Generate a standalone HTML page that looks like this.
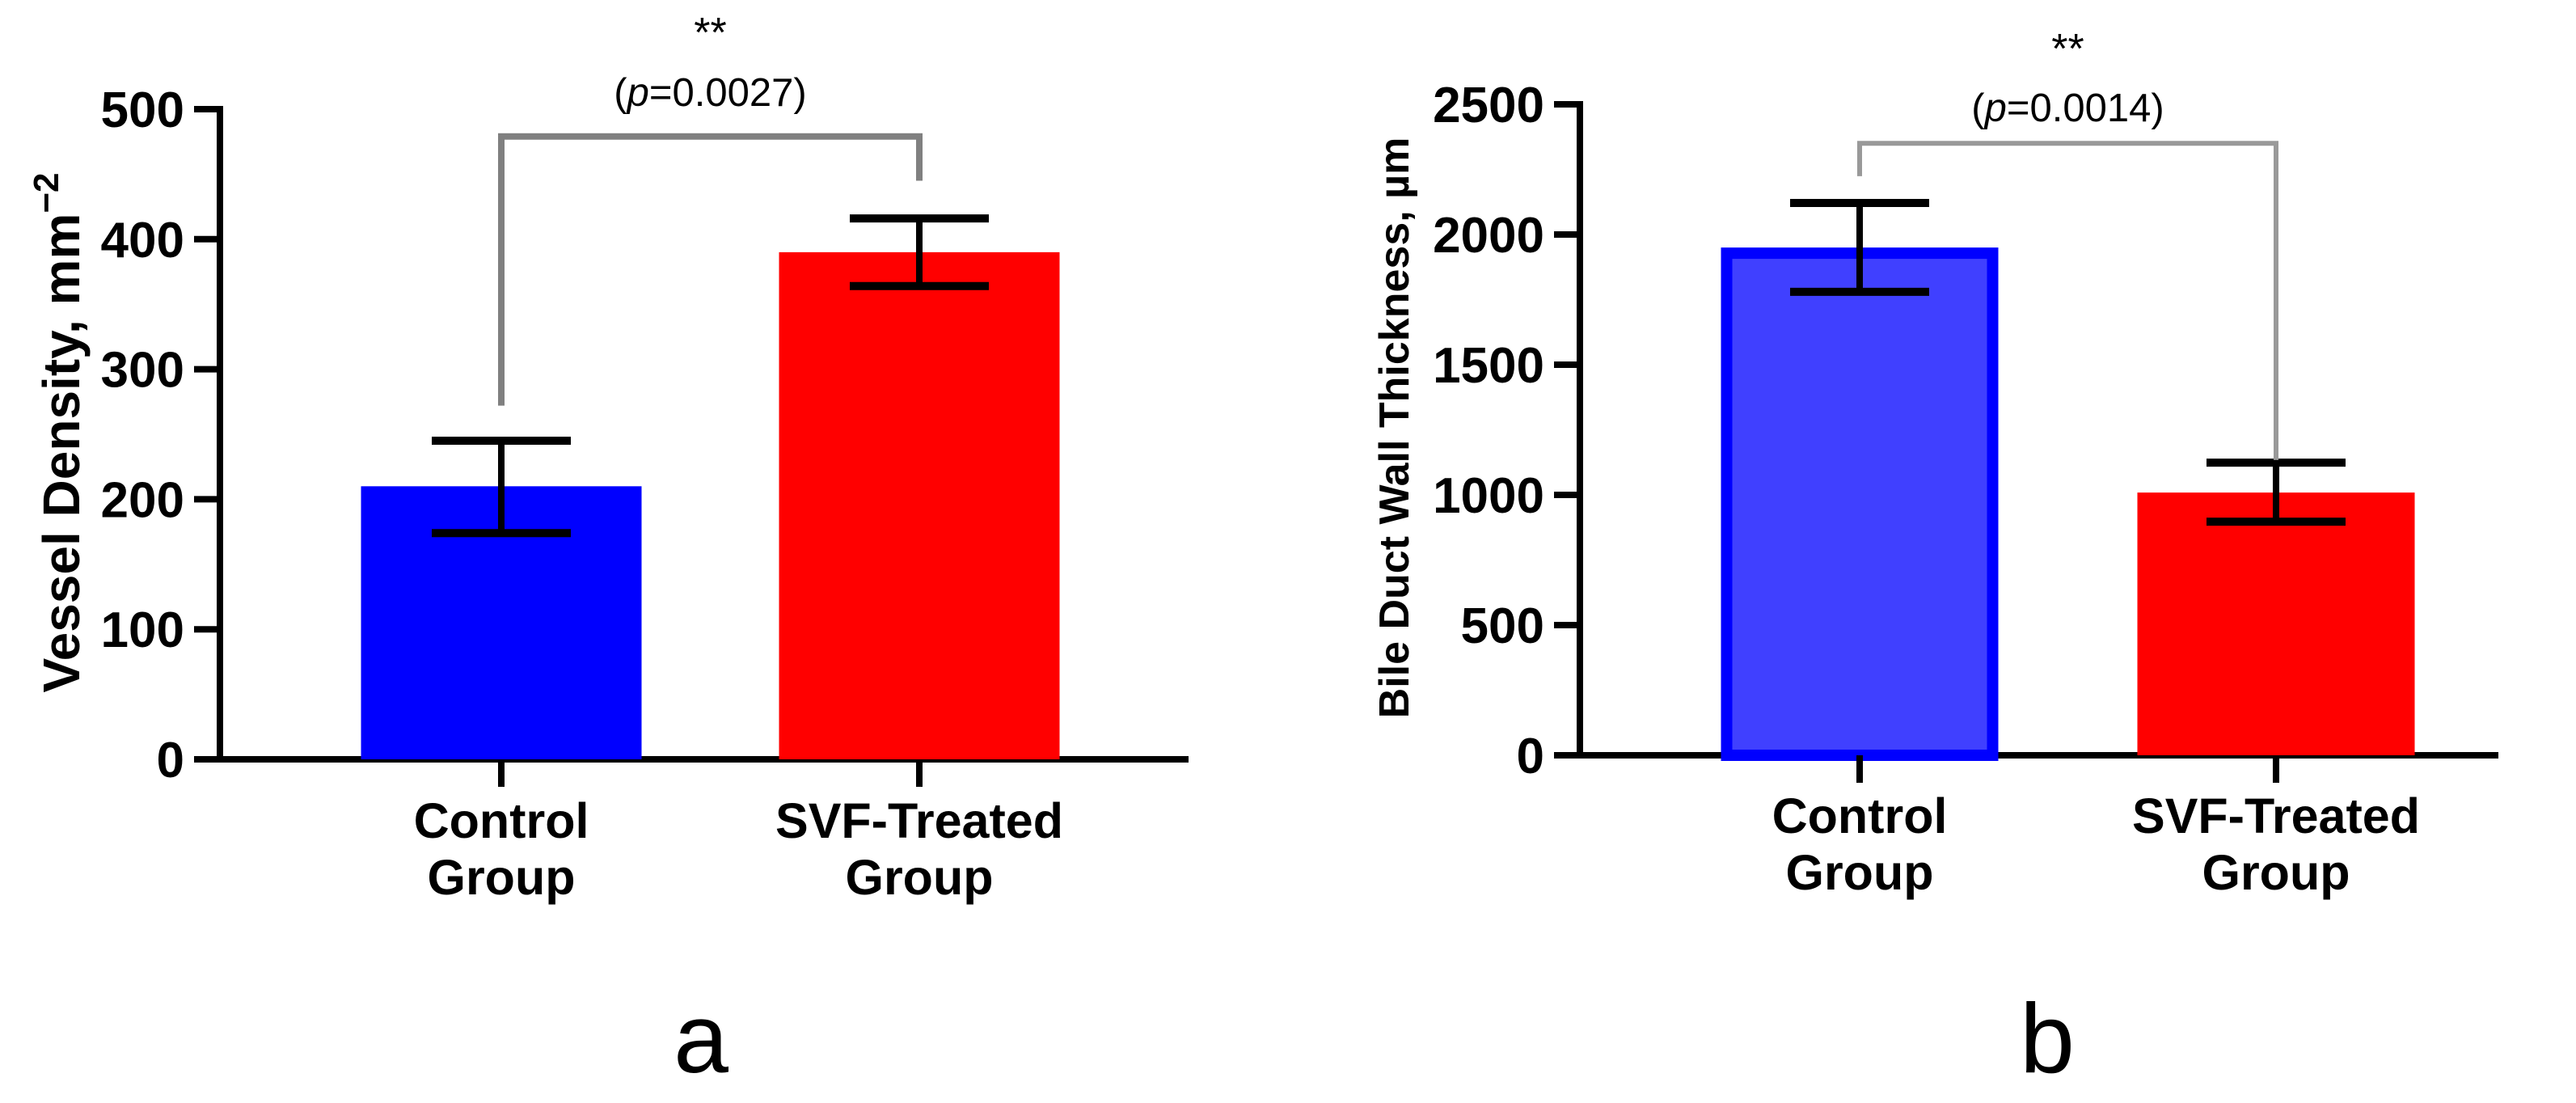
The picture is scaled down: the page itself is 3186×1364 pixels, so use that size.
<!DOCTYPE html>
<html><head><meta charset="utf-8"><style>
html,body{margin:0;padding:0;background:#fff;}
svg{display:block;font-family:"Liberation Sans",Arial,sans-serif;}
</style></head><body>
<svg id="fig" width="3186" height="1364" viewBox="0 0 3186 1364"></svg>
<script>
// Panel a data
const catsA = ["Control|Group", "SVF-Treated|Group"];
const valsA = [210, 390];
const errHiA = [245, 416];
const errLoA = [174, 364];
const ticksA = [0, 100, 200, 300, 400, 500];
const sigA = {y: 479, left: 272, right: 445, stars: "**", p: "0.0027"};
// Panel b data
const catsB = ["Control|Group", "SVF-Treated|Group"];
const valsB = [1950, 1009];
const errHiB = [2121, 1124];
const errLoB = [1780, 897];
const ticksB = [0, 500, 1000, 1500, 2000, 2500];
const sigB = {y: 2350, left: 2224, right: 1134, stars: "**", p: "0.0014"};

const NS = "http://www.w3.org/2000/svg";
const svg = document.getElementById("fig");
function el(tag, attrs, parent, text){
  const e = document.createElementNS(NS, tag);
  for (const k in attrs) e.setAttribute(k, attrs[k]);
  if (text !== undefined) e.textContent = text;
  (parent || svg).appendChild(e);
  return e;
}

function panel(cfg){
  const g = el("g", {});
  
  
  const yS = v => cfg.y0 - (v - cfg.vmin) / (cfg.vmax - cfg.vmin) * (cfg.y0 - cfg.y1);
  const ya = el("line", {x1: cfg.ax, y1: yS(cfg.vmax)-4, x2: cfg.ax, y2: cfg.y0+4, stroke: "#000", "stroke-width": 8}, g);
  
  
  const xa = el("line", {x1: cfg.ax-32, y1: cfg.y0, x2: cfg.axEnd, y2: cfg.y0, stroke: "#000", "stroke-width": 8}, g);
  
  
  cfg.ticks.forEach(t => {
    const y = yS(t);
    const tl = el("line", {x1: cfg.ax-32, y1: y, x2: cfg.ax, y2: y, stroke: "#000", "stroke-width": 8}, g);
    
    
    const tx = el("text", {x: cfg.ax-44, y: y+22, "text-anchor": "end", "font-size": 62, "font-weight": "bold"}, g, String(t));
    
    
  });
  cfg.cats.forEach((c, i) => {
    const cx = cfg.cx[i];
    const top = yS(cfg.vals[i]);
    const bw = cfg.bw;
    let bar;
    if (cfg.outline[i]) {
      bar = el("rect", {x: cx-bw/2+7, y: top+7, width: bw-14, height: cfg.y0-top-7, fill: cfg.fill[i], stroke: cfg.outline[i], "stroke-width": 14}, g);
    } else {
      bar = el("rect", {x: cx-bw/2, y: top, width: bw, height: cfg.y0-top, fill: cfg.fill[i]}, g);
    }
    
    
    const eg = el("g", {stroke: "#000", "stroke-width": 8}, g);
    
    
    el("line", {x1: cx, y1: yS(cfg.hi[i]), x2: cx, y2: yS(cfg.lo[i])}, eg);
    el("line", {x1: cx-86, y1: yS(cfg.hi[i]), x2: cx+86, y2: yS(cfg.hi[i]), "stroke-width": 10}, eg);
    el("line", {x1: cx-86, y1: yS(cfg.lo[i]), x2: cx+86, y2: yS(cfg.lo[i]), "stroke-width": 10}, eg);
    const xt = el("line", {x1: cx, y1: cfg.y0, x2: cx, y2: cfg.y0+34, stroke: "#000", "stroke-width": 8}, g);
    
    
    const parts = c.split("|");
    const lab = el("text", {x: cx, y: cfg.labY, "text-anchor": "middle", "font-size": 61, "font-weight": "bold"}, g);
    
    
    el("tspan", {x: cx, dy: 0}, lab, parts[0]);
    el("tspan", {x: cx, dy: 70}, lab, parts[1]);
  });
  const s = cfg.sig;
  const by = yS(s.y);
  const br = el("path", {d: `M${cfg.cx[0]},${yS(s.left)} V${by} H${cfg.cx[1]} V${yS(s.right)}`, fill: "none", stroke: cfg.brColor, "stroke-width": cfg.brW}, g);
  
  
  const mid = (cfg.cx[0] + cfg.cx[1]) / 2;
  const st = el("text", {x: mid, y: cfg.starY, "text-anchor": "middle", "font-size": 52}, g, s.stars);
  
  
  const pt = el("text", {x: mid, y: cfg.pY, "text-anchor": "middle", "font-size": 49}, g);
  
  
  el("tspan", {}, pt, "(");
  el("tspan", {"font-style": "italic"}, pt, "p");
  el("tspan", {}, pt, "=" + s.p + ")");
  const yt = el("text", {transform: `translate(${cfg.titleX},${cfg.titleY}) rotate(-90)`, "text-anchor": "middle", "font-size": cfg.titleSize, "font-weight": "bold"}, g);
  
  
  cfg.title(yt);
  const pl = el("text", {x: cfg.letterX, y: 1326, "text-anchor": "middle", "font-size": 122}, g, cfg.letter);
  
  
}

panel({
  name: "panel-a-vessel-density", cats: catsA, vals: valsA, hi: errHiA, lo: errLoA, ticks: ticksA,
  vmin: 0, vmax: 500, y0: 939, y1: 135, ax: 272, axEnd: 1470,
  cx: [620, 1137], bw: 347, fill: ["#0000ff", "#ff0000"], outline: [null, null],
  labY: 1036, sig: sigA, brColor: "#808080", brW: 8, starY: 58, pY: 131,
  titleX: 98, titleY: 535, titleSize: 64, letter: "a", letterX: 867,
  title: t => { el("tspan", {}, t, "Vessel Density, mm"); el("tspan", {dy: -26, "font-size": 44}, t, "\u22122"); }
});
panel({
  name: "panel-b-bile-duct-wall-thickness", cats: catsB, vals: valsB, hi: errHiB, lo: errLoB, ticks: ticksB,
  vmin: 0, vmax: 2500, y0: 934, y1: 129, ax: 1954, axEnd: 3090,
  cx: [2300, 2815], bw: 343, fill: ["#4040ff", "#ff0000"], outline: ["#0000ff", null],
  labY: 1030, sig: sigB, brColor: "#999999", brW: 6, starY: 78, pY: 150,
  titleX: 1742, titleY: 529, titleSize: 52, letter: "b", letterX: 2532,
  title: t => { el("tspan", {}, t, "Bile Duct Wall Thickness, \u00b5m"); }
});
</script>
</body></html>
